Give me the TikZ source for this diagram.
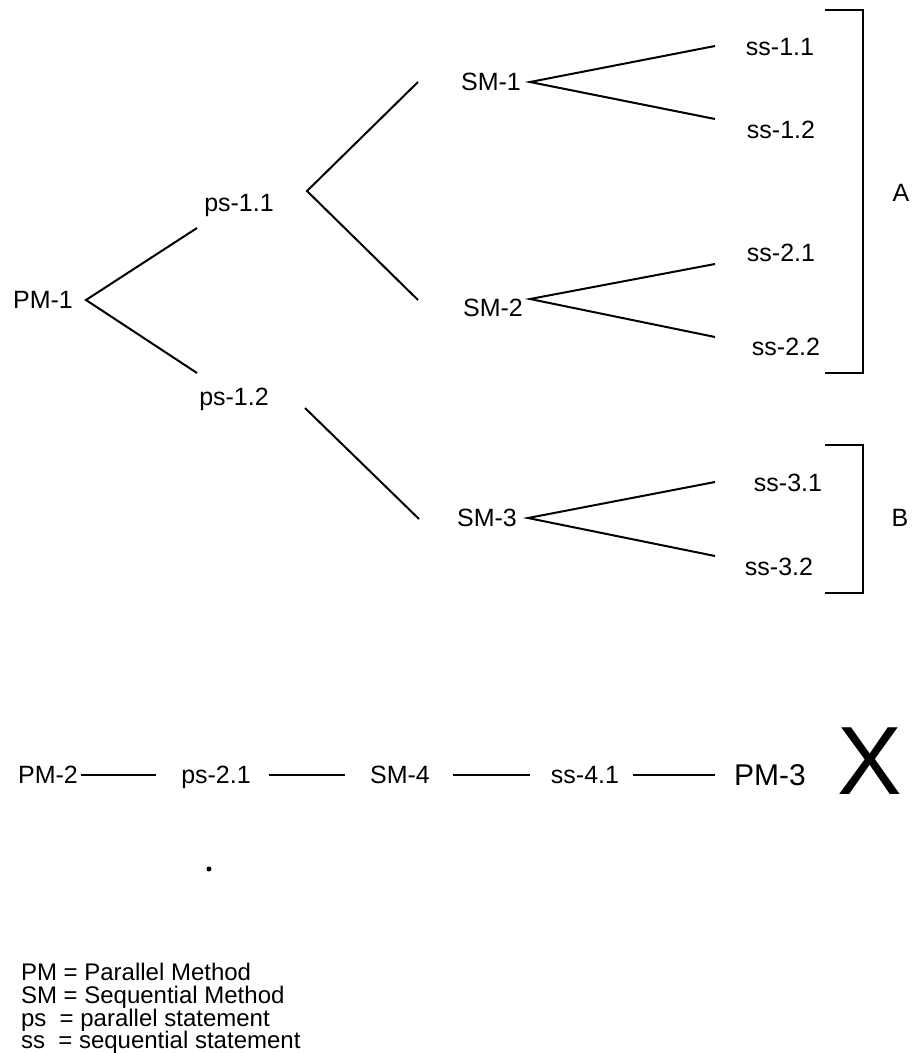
\documentclass[tikz,border=0pt]{standalone}
\usepackage{fontspec}
\setmainfont{Liberation Sans}

\begin{document}
\begin{tikzpicture}[x=1pt, y=-1pt, line width=2pt,
    lbl/.style={inner sep=0pt, font=\fontsize{25}{30}\selectfont, text height=17.9pt, text depth=0pt},
    big/.style={inner sep=0pt, font=\fontsize{30}{36}\selectfont, text height=21.5pt, text depth=0pt},
    leg/.style={inner sep=0pt, anchor=west, font=\fontsize{24}{28}\selectfont, text height=17.2pt, text depth=0pt}]
\useasboundingbox (0,0) rectangle (913,1053);
% tree
\node[lbl] (pm1) at (43,300) {PM-1};
\node[lbl] (ps11) at (239,203) {ps-1.1};
\node[lbl] (ps12) at (234,397) {ps-1.2};
\node[lbl] (sm1) at (491,82) {SM-1};
\node[lbl] (sm2) at (493,308) {SM-2};
\node[lbl] (sm3) at (487,518) {SM-3};
\node[lbl] (ss11) at (780,47) {ss-1.1};
\node[lbl] (ss12) at (781,130) {ss-1.2};
\node[lbl] (ss21) at (781,253) {ss-2.1};
\node[lbl] (ss22) at (786,347) {ss-2.2};
\node[lbl] (ss31) at (788,483) {ss-3.1};
\node[lbl] (ss32) at (779,567) {ss-3.2};
\node[lbl] (grpA) at (901,193) {A};
\node[lbl] (grpB) at (900,518) {B};
\coordinate (pm1r) at (86,300);
\coordinate (ps11l) at (197,228);
\coordinate (ps12l) at (197,373);
\coordinate (ps11r) at (307,191);
\coordinate (ps12r) at (305,408);
\coordinate (sm1l) at (418,82);
\coordinate (sm2l) at (418,300);
\coordinate (sm3l) at (419,519);
\coordinate (sm1r) at (530,82);
\coordinate (sm2r) at (530,299);
\coordinate (sm3r) at (528,518);
\coordinate (ss11l) at (715,46);
\coordinate (ss12l) at (715,119);
\coordinate (ss21l) at (715,264);
\coordinate (ss22l) at (715,337);
\coordinate (ss31l) at (715,482);
\coordinate (ss32l) at (715,556);
\draw (ps11l) -- (pm1r) -- (ps12l);
\draw (sm1l) -- (ps11r) -- (sm2l);
\draw (ps12r) -- (sm3l);
\draw (ss11l) -- (sm1r) -- (ss12l);
\draw (ss21l) -- (sm2r) -- (ss22l);
\draw (ss31l) -- (sm3r) -- (ss32l);
% brackets
\draw (825,10) -- (863,10) -- (863,373) -- (825,373);
\draw (825,445) -- (863,445) -- (863,593) -- (825,593);
% second chain
\node[lbl] (pm2) at (48,775) {PM-2};
\node[lbl] (ps21) at (216,775) {ps-2.1};
\node[lbl] (sm4) at (400,775) {SM-4};
\node[lbl] (ss41) at (585,775) {ss-4.1};
\node[big] (pm3) at (770,775) {PM-3};
\node[inner sep=0pt, font=\fontsize{97}{110}\selectfont, text height=69.5pt, text depth=0pt] (cross) at (870,760) {X};
\draw[shorten <=2pt, shorten >=24pt] (pm2.east) -- (ps21.west);
\draw[shorten <=17pt, shorten >=24pt] (ps21.east) -- (sm4.west);
\draw[shorten <=22pt, shorten >=20pt] (sm4.east) -- (ss41.west);
\draw[shorten <=13pt, shorten >=18pt] (ss41.east) -- (pm3.west);
\fill (209,869) circle (2.5);
% legend
\node[leg] (k1) at (20,972) {PM = Parallel Method};
\node[leg] (k2) at (20,995) {SM = Sequential Method};
\node[leg] (k3) at (20,1018) {ps\ \ = parallel statement};
\node[leg] (k4) at (20,1040) {ss\ \ = sequential statement};
\end{tikzpicture}
\end{document}
